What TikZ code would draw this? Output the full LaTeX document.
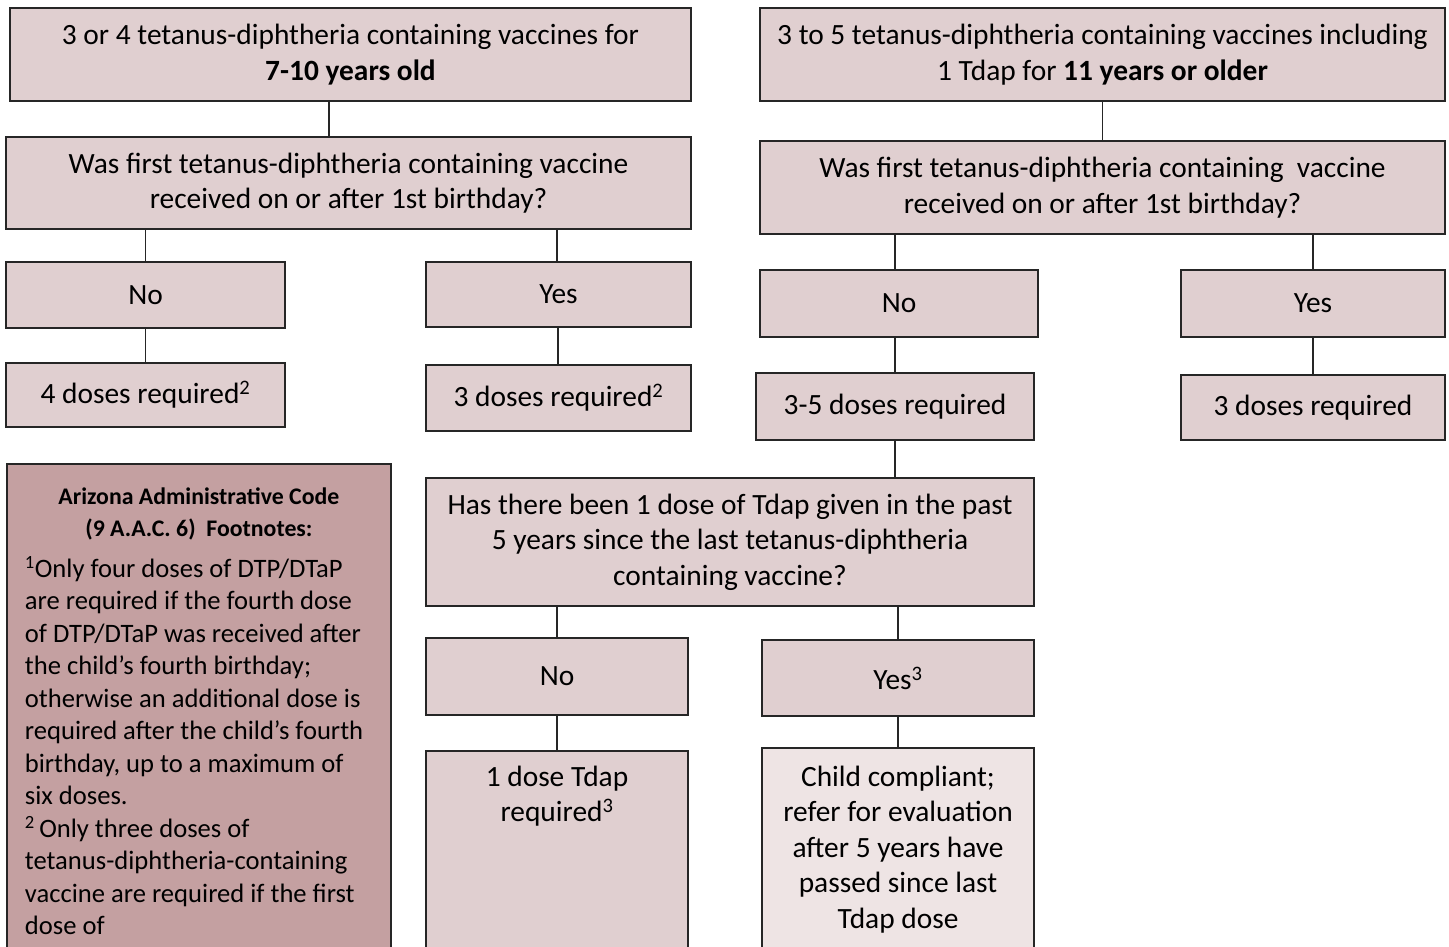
\documentclass[tikz,border=0pt]{standalone}
\usepackage{fontspec}
\setmainfont{Carlito}
\definecolor{boxfill}{RGB}{224,207,208}
\definecolor{palefill}{RGB}{238,228,228}
\definecolor{notefill}{RGB}{196,160,161}
\begin{document}
\begin{tikzpicture}[x=1pt,y=-1pt,
  box/.style={draw=black!85,line width=1.8pt,fill=boxfill,align=center,inner sep=0pt,
    font=\fontsize{29.4}{35.5}\selectfont},
  link/.style={draw=black!85,line width=1.8pt}]
\useasboundingbox (0,0) rectangle (1449,946);
\clip (0,0) rectangle (1449,946);
% left branch: 7-10 years old
\node[box,minimum width=681,minimum height=93] (A) at (350.5,54.5)
  {3 or 4 tetanus-diphtheria containing vaccines for\\ \textbf{7-10 years old}};
\node[box,minimum width=685,minimum height=92] (C) at (348.5,183)
  {Was first tetanus-diphtheria containing vaccine\\received on or after 1st birthday?};
\node[box,minimum width=279,minimum height=66] (No1) at (145.5,295) {No};
\node[box,minimum width=265,minimum height=65] (Yes1) at (558.5,294.5) {Yes};
\node[box,minimum width=279,minimum height=64] (Four) at (145.5,395)
  {4 doses required\textsuperscript{2}};
\node[box,minimum width=265,minimum height=66] (Three1) at (558.5,398)
  {3 doses required\textsuperscript{2}};
% right branch: 11 years or older
\node[box,minimum width=685,minimum height=93] (B) at (1102.5,54.5)
  {3 to 5 tetanus-diphtheria containing vaccines including\\1 Tdap for \textbf{11 years or older}};
\node[box,minimum width=685,minimum height=93] (D) at (1102.5,187.5)
  {Was first tetanus-diphtheria containing\ \ vaccine\\received on or after 1st birthday?};
\node[box,minimum width=278,minimum height=67] (No2) at (899,303.5) {No};
\node[box,minimum width=264,minimum height=67] (Yes2) at (1313,303.5) {Yes};
\node[box,minimum width=278,minimum height=67] (ThreeFive) at (895,406.5) {3-5 doses required};
\node[box,minimum width=264,minimum height=65] (Three2) at (1313,407.5) {3 doses required};
\node[box,minimum width=608,minimum height=128] (Q) at (730,542)
  {Has there been 1 dose of Tdap given in the past\\5 years since the last tetanus-diphtheria\\containing vaccine?};
\node[box,minimum width=262,minimum height=77] (No3) at (557,676.5) {No};
\node[box,minimum width=272,minimum height=76] (Yes3) at (898,678) {Yes\textsuperscript{3}};
\node[box,anchor=north] (OneDose) at (557,750)
  {\parbox[t][230pt][t]{262pt}{\centering\vspace{15pt}1 dose Tdap\\required\textsuperscript{3}}};
\node[box,fill=palefill,anchor=north] (Child) at (898,747)
  {\parbox[t][230pt][t]{272pt}{\centering\vspace{18pt}Child compliant;\\refer for evaluation\\after 5 years have\\passed since last\\Tdap dose}};
% footnotes
\node[box,fill=notefill,anchor=north west] (Notes) at (6,463)
  {\parbox[t][520pt][t]{384pt}{\centering\vspace{24pt}%
   {\fontsize{23.8}{32}\selectfont\bfseries Arizona Administrative Code\\(9 A.A.C. 6)\ \ Footnotes:\par}
   \vspace{8pt}
   \raggedright\leftskip=18pt
   {\fontsize{26.6}{32.5}\selectfont
   \textsuperscript{1}Only four doses of DTP/DTaP\\
   are required if the fourth dose\\
   of DTP/DTaP was received after\\
   the child’s fourth birthday;\\
   otherwise an additional dose is\\
   required after the child’s fourth\\
   birthday, up to a maximum of\\
   six doses.\\
   \textsuperscript{2}\,Only three doses of\\
   tetanus-diphtheria-containing\\
   vaccine are required if the first\\
   dose of\par}}};
% connectors
\path[link] (A.south -| 329,0) -- (C.north -| 329,0);
\path[link] (No1.north |- C.south) -- (No1.north);
\path[link] (C.south -| 557,0) -- (Yes1.north -| 557,0);
\path[link] (No1.south) -- (Four.north);
\path[link] (Yes1.south -| 558,0) -- (Three1.north -| 558,0);
\path[link] (B.south) -- (D.north);
\path[link] (ThreeFive.north |- D.south) -- (ThreeFive.north |- No2.north);
\path[link] (Yes2.north |- D.south) -- (Yes2.north);
\path[link] (ThreeFive.north |- No2.south) -- (ThreeFive.north);
\path[link] (Yes2.south) -- (Three2.north);
\path[link] (ThreeFive.south) -- (ThreeFive.south |- Q.north);
\path[link] (No3.north |- Q.south) -- (No3.north);
\path[link] (Yes3.north |- Q.south) -- (Yes3.north);
\path[link] (No3.south) -- (OneDose.north);
\path[link] (Yes3.south) -- (Child.north);
\end{tikzpicture}
\end{document}
